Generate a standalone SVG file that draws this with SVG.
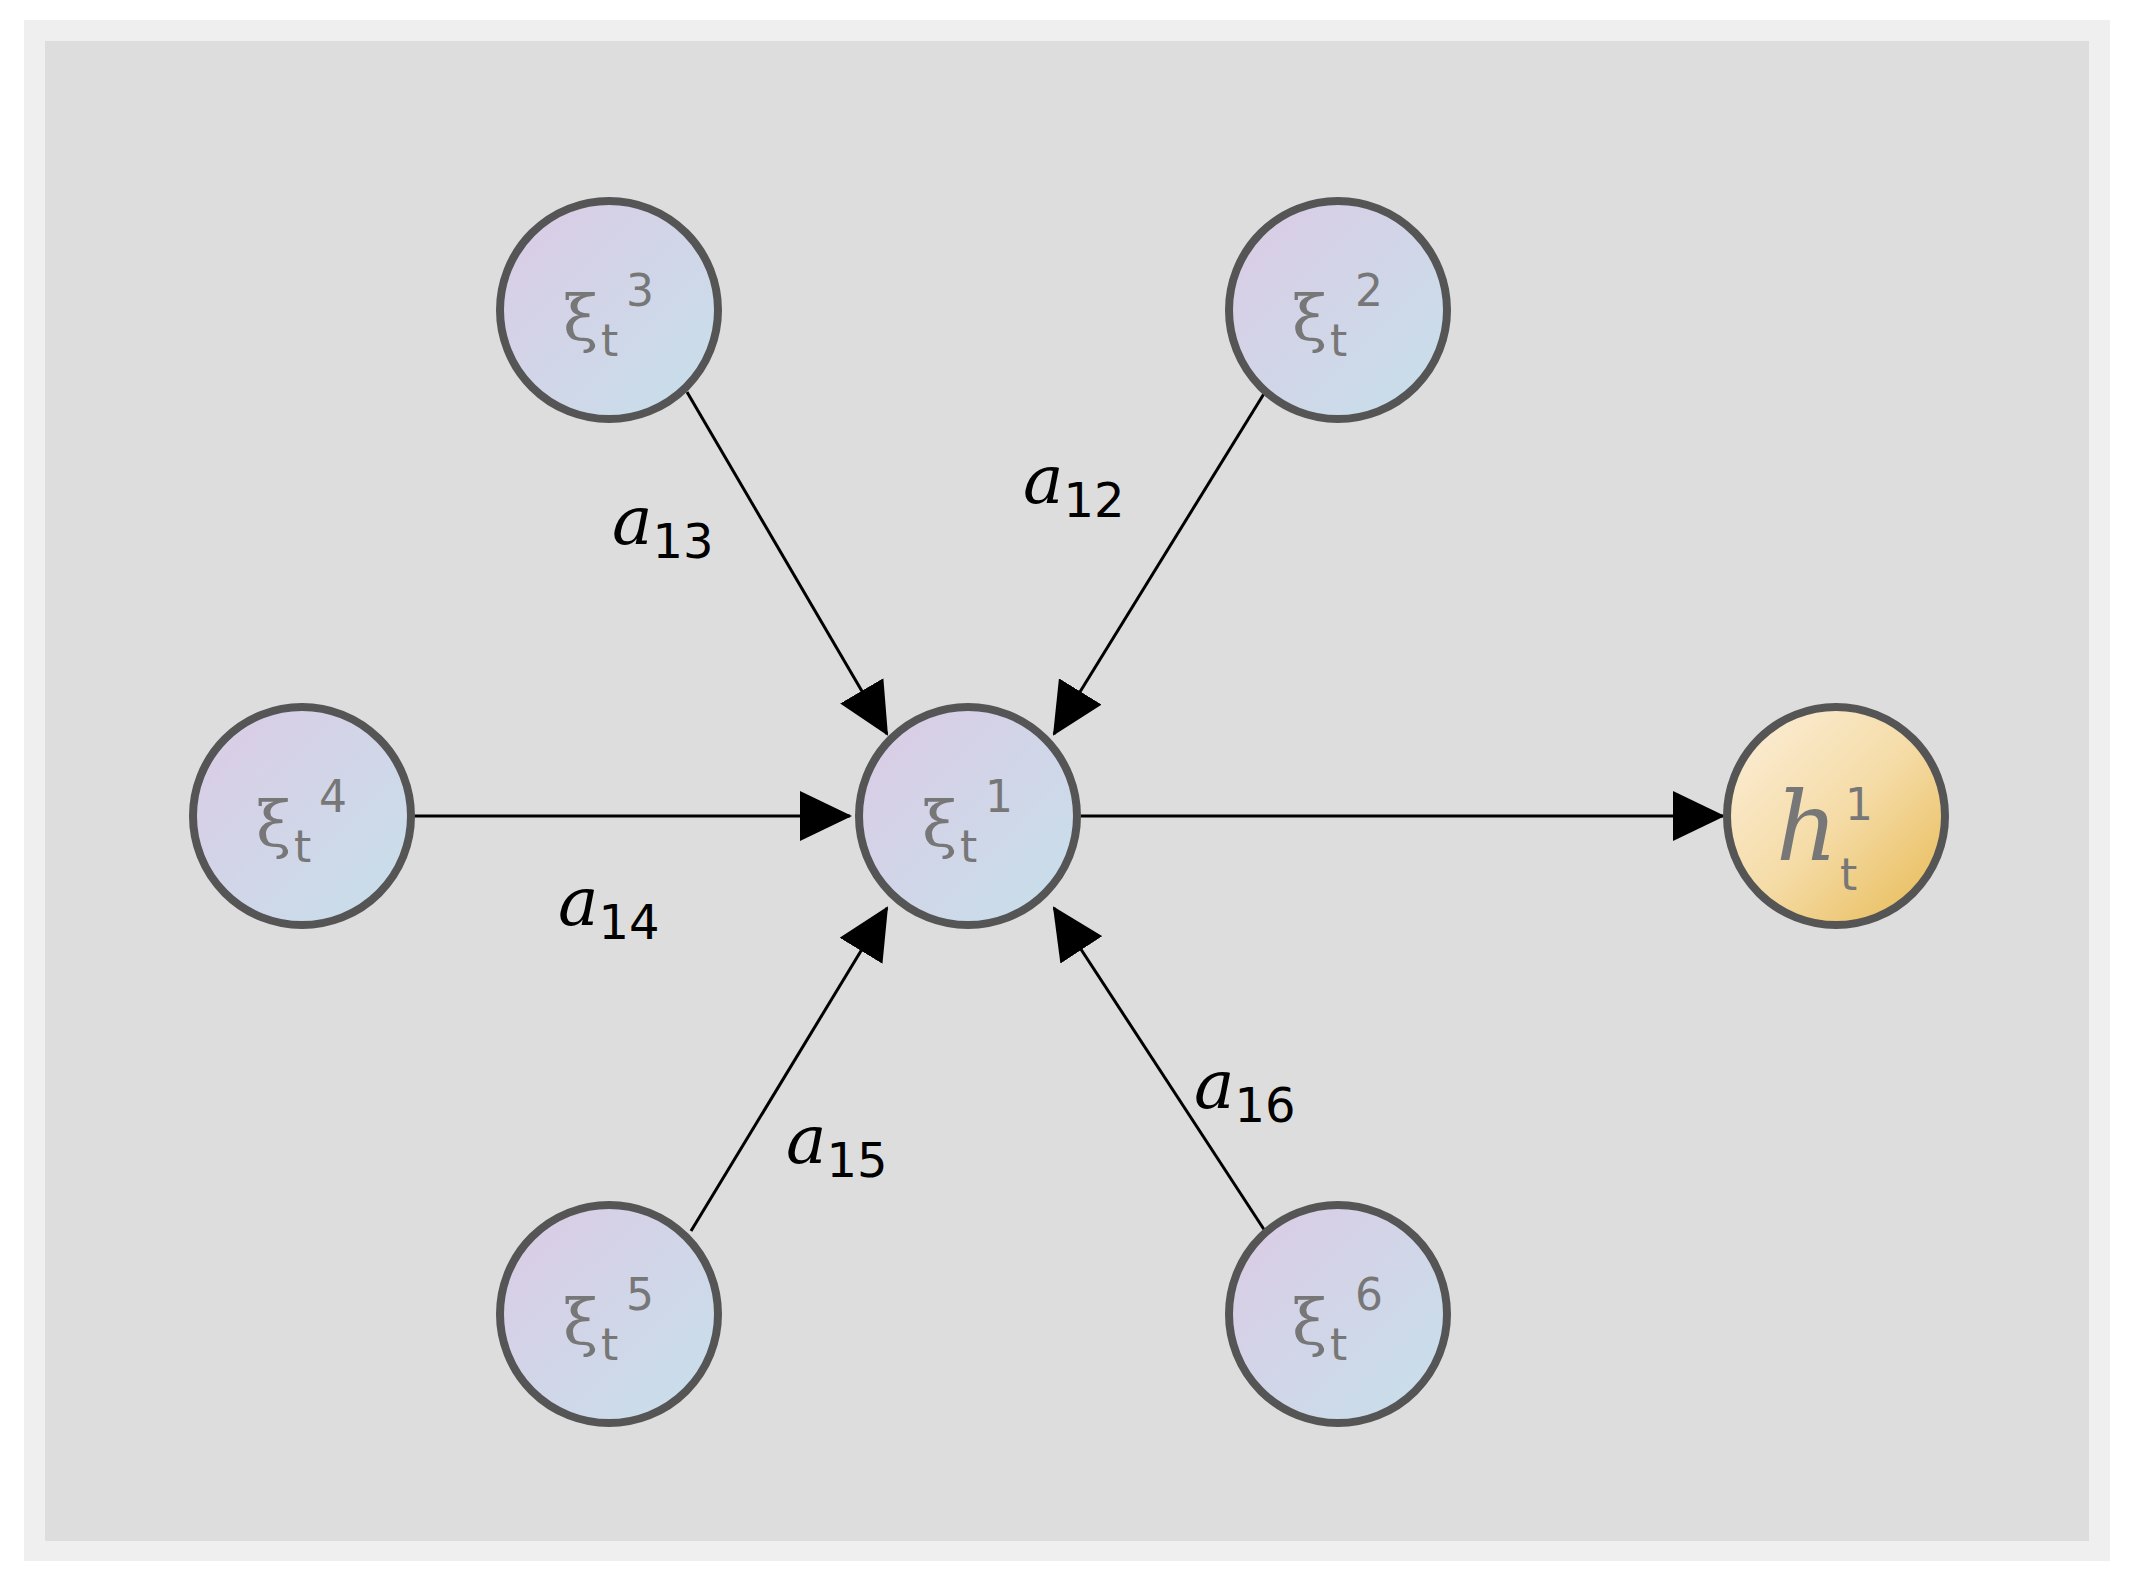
<svg xmlns="http://www.w3.org/2000/svg" width="2131" height="1582" viewBox="0 0 2131 1582">
<defs>
<linearGradient id="gx" x1="0" y1="0" x2="1" y2="1"><stop offset="0" stop-color="#dccbe6"/><stop offset="1" stop-color="#c6e0ea"/></linearGradient>
<linearGradient id="gh" x1="0" y1="0" x2="1" y2="1"><stop offset="0" stop-color="#fcf0dc"/><stop offset="0.5" stop-color="#f5dca8"/><stop offset="1" stop-color="#e6b850"/></linearGradient>
<marker id="ar" markerUnits="userSpaceOnUse" markerWidth="52" markerHeight="50" refX="50" refY="25" orient="auto"><path d="M0,0 L52,25 L0,50 Z" fill="#000"/></marker>
<style>
.n{fill:url(#gx);stroke:#555;stroke-width:8}
.x{font-family:"DejaVu Serif",serif;font-size:64px;fill:#777}
.s{font-family:"DejaVu Sans",sans-serif;font-size:44px;fill:#777}
.e{stroke:#000;stroke-width:3;fill:none;marker-end:url(#ar)}
.l{font-family:"DejaVu Serif",serif;font-style:italic;font-size:68px;fill:#000}
.ls{font-family:"DejaVu Sans",sans-serif;font-style:normal;font-size:48px}
</style>
</defs>
<rect x="24" y="20" width="2086" height="1541" fill="#efefef"/>
<rect x="45" y="41" width="2044" height="1500" fill="#dddddd"/>
<g id="connectors">
<line class="e" x1="687" y1="392" x2="887" y2="734"/>
<line class="e" x1="1265" y1="392" x2="1054" y2="734"/>
<line class="e" x1="411" y1="816" x2="850" y2="816"/>
<line class="e" x1="691" y1="1231" x2="887" y2="908"/>
<line class="e" x1="1265" y1="1231" x2="1054" y2="908"/>
<line class="e" x1="1081" y1="816" x2="1723" y2="816"/>
</g>
<g id="n1"><circle class="n" cx="968" cy="816" r="109"/><text class="x" x="922" y="846">ξ</text><text class="s" x="960" y="862">t</text><text class="s" x="985" y="812">1</text></g>
<g id="n2"><circle class="n" cx="1338" cy="310" r="109"/><text class="x" x="1292" y="340">ξ</text><text class="s" x="1330" y="356">t</text><text class="s" x="1355" y="306">2</text></g>
<g id="n3"><circle class="n" cx="609" cy="310" r="109"/><text class="x" x="563" y="340">ξ</text><text class="s" x="601" y="356">t</text><text class="s" x="626" y="306">3</text></g>
<g id="n4"><circle class="n" cx="302" cy="816" r="109"/><text class="x" x="256" y="846">ξ</text><text class="s" x="294" y="862">t</text><text class="s" x="319" y="812">4</text></g>
<g id="n5"><circle class="n" cx="609" cy="1314" r="109"/><text class="x" x="563" y="1344">ξ</text><text class="s" x="601" y="1360">t</text><text class="s" x="626" y="1310">5</text></g>
<g id="n6"><circle class="n" cx="1338" cy="1314" r="109"/><text class="x" x="1292" y="1344">ξ</text><text class="s" x="1330" y="1360">t</text><text class="s" x="1355" y="1310">6</text></g>
<g id="h"><circle cx="1836" cy="816" r="109" fill="url(#gh)" stroke="#555" stroke-width="8"/><text x="1776" y="860" font-family="DejaVu Serif,serif" font-style="italic" font-size="96" fill="#777">h</text><text class="s" x="1840" y="890" font-size="54">t</text><text class="s" x="1845" y="820" font-size="54">1</text></g>
<g id="labels">
<text class="l" x="612" y="544">a<tspan class="ls" dy="14">13</tspan></text>
<text class="l" x="1023" y="503">a<tspan class="ls" dy="14">12</tspan></text>
<text class="l" x="558" y="925">a<tspan class="ls" dy="14">14</tspan></text>
<text class="l" x="786" y="1163">a<tspan class="ls" dy="14">15</tspan></text>
<text class="l" x="1194" y="1108">a<tspan class="ls" dy="14">16</tspan></text>
</g>
</svg>
